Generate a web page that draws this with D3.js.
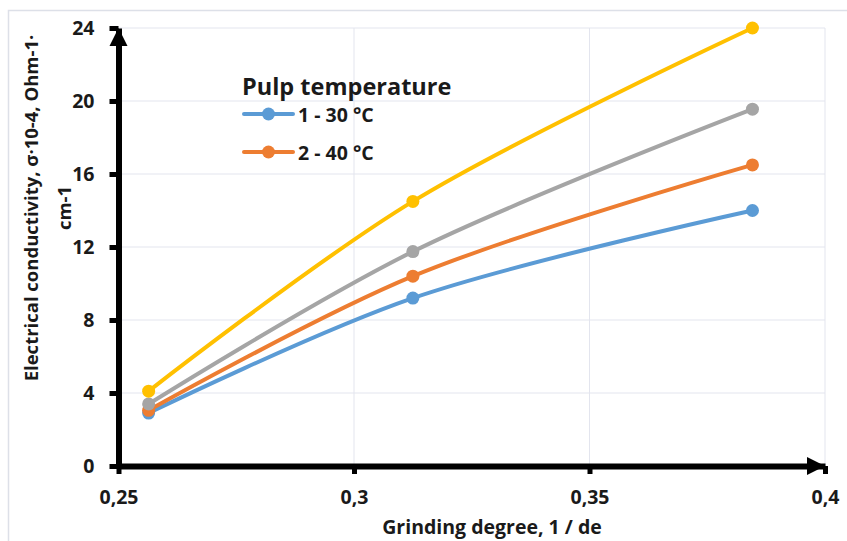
<!DOCTYPE html>
<html><head><meta charset="utf-8">
<script src="https://cdn.jsdelivr.net/npm/d3@7"></script>
<style>
body{margin:0;background:#fff;}
svg{display:block;font-family:"Open Sans",sans-serif;}
</style></head>
<body><svg id="c" width="847" height="541"></svg>
<script>
const xValues = [0.2564, 0.3125, 0.3846];
const seriesNames = ["1 - 30 °C", "2 - 40 °C", "3", "4"];
const seriesColors = ["#5B9BD5", "#ED7D31", "#A5A5A5", "#FFC000"];
const s1 = [2.9, 9.2, 14.0];
const s2 = [3.05, 10.4, 16.5];
const s3 = [3.4, 11.75, 19.55];
const s4 = [4.1, 14.5, 24.0];
const seriesValues = [s1, s2, s3, s4];
const xTicks = [0.25, 0.3, 0.35, 0.4];
const xTickLabels = ["0,25", "0,3", "0,35", "0,4"];
const yTicks = [0, 4, 8, 12, 16, 20, 24];
const legendTitle = "Pulp temperature";
const legendCount = 2;
const xTitle = "Grinding degree, 1 / de";
const yTitle1 = "Electrical conductivity, σ·10-4, Ohm-1·";
const yTitle2 = "cm-1";

const svg = d3.select("#c");
const x = d3.scaleLinear().domain([0.25, 0.4]).range([118.5, 825]);
const y = d3.scaleLinear().domain([0, 24]).range([466, 28]);

// outer border
svg.append("rect").attr("x", 8.5).attr("y", 10.5).attr("width", 900).attr("height", 600)
  .attr("fill", "none").attr("stroke", "#dde0e8").attr("stroke-width", 1.5);

// gridlines
svg.append("g").selectAll("line").data(yTicks.filter(d => d > 0)).join("line")
  .attr("x1", x(0.25)).attr("x2", x(0.4)).attr("y1", d => y(d)).attr("y2", d => y(d))
  .attr("stroke", "#e3e5ee").attr("stroke-width", 1);
svg.append("g").selectAll("line").data(xTicks.filter(d => d > 0.25)).join("line")
  .attr("x1", d => x(d)).attr("x2", d => x(d)).attr("y1", y(24)).attr("y2", y(0))
  .attr("stroke", "#e3e5ee").attr("stroke-width", 1);

// series
const line = d3.line().x((d, i) => x(xValues[i])).y(d => y(d)).curve(d3.curveCatmullRom.alpha(0.5));
seriesValues.forEach((vals, k) => {
  const g = svg.append("g");
  g.append("path").attr("d", line(vals)).attr("fill", "none")
    .attr("stroke", seriesColors[k]).attr("stroke-width", 4).attr("stroke-linecap", "round");
  g.selectAll("circle").data(vals).join("circle")
    .attr("cx", (d, i) => x(xValues[i])).attr("cy", d => y(d)).attr("r", 6.5)
    .attr("fill", seriesColors[k]);
});

// axes
const yAxis = svg.append("g").attr("transform", `translate(${x(0.25)},0)`)
  .call(d3.axisLeft(y).tickValues(yTicks).tickSize(9).tickSizeOuter(0).tickPadding(15));
const xAxis = svg.append("g").attr("transform", `translate(0,${y(0)})`)
  .call(d3.axisBottom(x).tickValues(xTicks).tickFormat((d, i) => xTickLabels[i]).tickSize(8).tickSizeOuter(0).tickPadding(16));
[yAxis, xAxis].forEach(a => {
  a.select(".domain").attr("stroke", "#000").attr("stroke-width", 6);
  a.selectAll(".tick line").attr("stroke", "#000").attr("stroke-width", 5);
  a.selectAll(".tick text").attr("fill", "#1a1a1a").style("font-size", "19.5px")
    .style("font-weight", "700").style("font-family", "'Open Sans',sans-serif");
});
// arrowheads
svg.append("path").attr("d", `M${x(0.25)},${y(24)} l-9,18 l18,0 z`).attr("fill", "#000");
svg.append("path").attr("d", `M${x(0.4)},${y(0)} l-18,-9 l0,18 z`).attr("fill", "#000");

// axis titles
svg.append("text").attr("x", 492).attr("y", 534).attr("text-anchor", "middle")
  .style("font-size", "19.5px").style("font-weight", "700").attr("fill", "#1a1a1a").text(xTitle);
const yt = svg.append("text").attr("transform", "translate(0,208) rotate(-90)")
  .attr("text-anchor", "middle").style("font-size", "18.5px").style("font-weight", "700").attr("fill", "#1a1a1a");
yt.append("tspan").attr("x", 0).attr("y", 38).text(yTitle1);
yt.append("tspan").attr("x", 0).attr("y", 71).text(yTitle2);

// legend
const lg = svg.append("g");
lg.append("text").attr("x", 242).attr("y", 95).style("font-size", "23.5px").style("font-weight", "700")
  .attr("fill", "#1a1a1a").text(legendTitle);
for (let k = 0; k < legendCount; k++) {
  const ly = 114 + k * 38;
  lg.append("line").attr("x1", 244).attr("x2", 293).attr("y1", ly).attr("y2", ly)
    .attr("stroke", seriesColors[k]).attr("stroke-width", 4).attr("stroke-linecap", "round");
  lg.append("circle").attr("cx", 268.5).attr("cy", ly).attr("r", 6.5).attr("fill", seriesColors[k]);
  lg.append("text").attr("x", 298).attr("y", ly + 8).style("font-size", "19.5px").style("font-weight", "700")
    .attr("fill", "#1a1a1a").text(seriesNames[k]);
}
</script></body></html>
